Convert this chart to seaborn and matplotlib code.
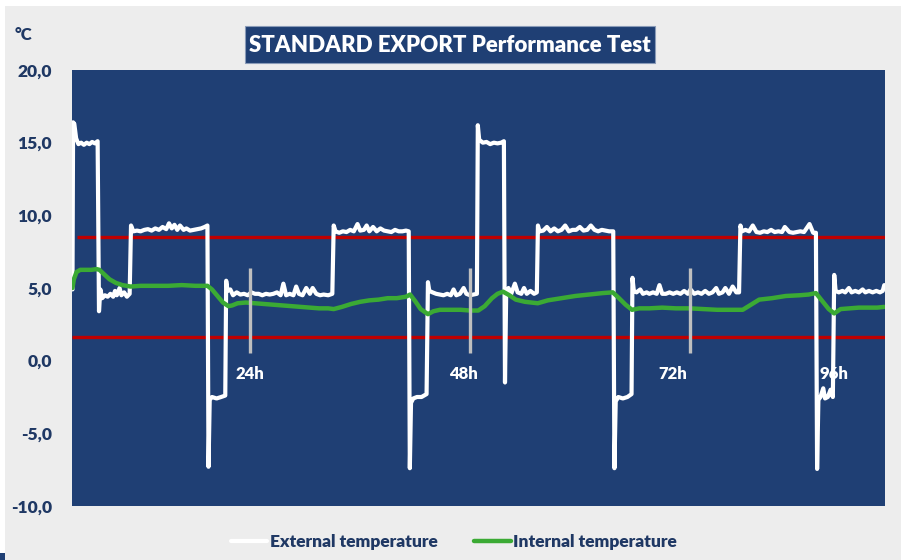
import matplotlib
matplotlib.use("Agg")
import matplotlib.pyplot as plt
from matplotlib.patches import Rectangle
import seaborn as sns
import pandas as pd

# ---------------- data ----------------
ext_hours = [4.55, 4.62, 4.75, 4.95, 5.2, 5.5, 5.8, 6.1, 6.4, 6.7, 7.0, 7.3,
             7.45, 7.6, 7.8, 8.1, 8.4, 8.7, 9.0, 9.2, 9.4, 9.7, 9.9, 10.2, 10.5, 10.8,
             10.95, 11.2, 11.6, 12.0, 12.4, 12.8, 13.2, 13.6, 14.0, 14.4, 14.8, 15.1, 15.4,
             15.7, 16.0, 16.3, 16.7, 17.0, 17.4, 17.8, 18.2, 18.6, 19.0, 19.3,
             19.42, 19.55, 19.8, 20.3, 20.8, 21.25,
             21.35, 21.5, 21.8, 22.1, 22.5, 22.9, 23.3, 23.7, 24.1, 24.5, 24.9, 25.3, 25.7,
             26.1, 26.5, 26.9, 27.3, 27.6, 27.9, 28.3, 28.7, 29.0, 29.3, 29.7, 30.1, 30.5,
             30.8, 31.2, 31.6, 32.0, 32.5, 32.95,
             33.1, 33.3, 33.7, 34.1, 34.5, 34.9, 35.3, 35.7, 36.0, 36.4, 36.7, 37.0, 37.4,
             37.8, 38.2, 38.6, 39.0, 39.4, 39.8, 40.2, 40.6, 41.0, 41.3,
             41.42, 41.55, 41.8, 42.2, 42.7, 43.25,
             43.4, 43.55, 43.9, 44.3, 44.7, 45.1, 45.5, 45.9, 46.2, 46.5, 46.9, 47.3, 47.6,
             48.0, 48.4, 48.75,
             48.85, 49.0, 49.4, 49.8, 50.2, 50.6, 51.0, 51.4, 51.7,
             51.82, 51.95, 52.2, 52.5, 52.9, 53.2, 53.6, 53.9, 54.2, 54.6, 55.0, 55.3,
             55.42, 55.6, 56.0, 56.4, 56.8, 57.2, 57.6, 58.0, 58.4, 58.8, 59.2, 59.6, 60.0,
             60.4, 60.8, 61.2, 61.6, 62.0, 62.4, 62.8, 63.2, 63.65,
             63.78, 63.92, 64.2, 64.7, 65.2, 65.65,
             65.75, 65.9, 66.2, 66.6, 66.9, 67.3, 67.6, 68.0, 68.4, 68.7, 69.0, 69.4, 69.8,
             70.2, 70.6, 71.0, 71.4, 71.8, 72.1, 72.5, 72.9, 73.3, 73.7, 74.1, 74.5, 74.9,
             75.2, 75.6, 75.9, 76.3, 76.7, 77.1, 77.4,
             77.55, 77.7, 78.1, 78.5, 78.9, 79.3, 79.7, 80.1, 80.5, 80.9, 81.3, 81.7, 82.1,
             82.4, 82.9, 83.3, 83.7, 84.1, 84.5, 85.1, 85.5, 85.8,
             85.93, 86.07, 86.3, 86.6, 86.8, 87.1, 87.4, 87.65,
             87.8, 87.95, 88.3, 88.7, 89.0, 89.4, 89.7, 90.1, 90.5, 90.9, 91.2, 91.6, 92.0,
             92.4, 92.8, 93.1, 93.27]
ext_temp = [4.9, 16.4, 16.3, 15.3, 14.9, 15.0, 14.85, 15.0, 14.9, 15.05, 14.95, 15.1,
            3.4, 4.9, 4.3, 4.5, 4.4, 4.6, 4.4, 4.8, 4.5, 5.0, 4.5, 4.7, 4.4, 4.6,
            9.3, 8.9, 8.95, 8.9, 9.0, 9.05, 8.95, 9.1, 9.0, 9.2, 9.05, 9.45, 9.1,
            9.35, 9.0, 9.3, 9.0, 9.1, 8.95, 9.0, 9.05, 9.1, 9.2, 9.3,
            -7.3, -2.7, -2.5, -2.6, -2.5, -2.4,
            5.5, 4.8, 4.9, 4.5, 4.7, 4.55, 4.6, 4.5, 4.7, 4.6, 4.6, 4.5, 4.6,
            4.55, 4.6, 4.7, 4.5, 5.3, 4.5, 4.6, 4.5, 5.1, 4.6, 4.5, 5.0, 4.6,
            5.0, 4.6, 4.5, 4.55, 4.5, 4.6,
            9.3, 8.9, 8.8, 8.9, 8.85, 9.0, 8.9, 9.4, 8.95, 9.0, 9.3, 8.9, 9.2,
            8.9, 9.1, 8.95, 8.9, 8.85, 9.0, 8.9, 8.9, 8.95, 8.9,
            -7.4, -2.9, -2.6, -2.5, -2.5, -2.3,
            5.4, 4.8, 4.7, 4.6, 4.55, 4.5, 4.6, 4.5, 4.9, 4.5, 4.6, 5.0, 4.6,
            4.5, 4.55, 4.6,
            16.2, 15.2, 15.0, 15.05, 14.9, 15.0, 14.95, 15.0, 15.1,
            -1.5, 4.6, 5.0, 4.6, 5.3, 4.7, 4.6, 5.0, 4.6, 4.8, 4.6, 4.7,
            9.3, 8.9, 8.95, 9.2, 8.9, 9.1, 8.9, 9.0, 9.3, 8.9, 9.0, 9.0, 9.2,
            8.95, 9.0, 9.3, 9.0, 8.9, 9.0, 8.95, 8.9, 8.9,
            -7.4, -2.8, -2.5, -2.6, -2.5, -2.3,
            5.7, 4.8, 4.7, 4.9, 4.6, 4.7, 4.6, 4.7, 4.6, 5.2, 4.6, 4.6, 4.7,
            4.6, 4.7, 4.6, 4.8, 4.6, 4.9, 4.6, 4.7, 4.6, 4.8, 4.6, 4.7, 5.0,
            4.6, 4.7, 5.0, 4.6, 5.1, 4.7, 4.7,
            9.3, 8.9, 9.0, 8.9, 9.3, 8.85, 8.8, 8.9, 8.85, 9.0, 8.85, 8.9, 8.85,
            9.2, 8.85, 8.8, 8.85, 8.9, 8.85, 9.4, 8.8, 8.8,
            -7.45, -2.7, -2.5, -1.9, -2.6, -2.5, -2.0, -2.5,
            5.9, 4.8, 4.7, 4.8, 4.7, 5.0, 4.7, 4.8, 4.7, 4.9, 4.7, 4.8, 4.7,
            4.8, 4.7, 4.8, 5.2]

int_hours = [4.55, 4.7, 5.0, 5.4, 6.0, 6.6, 7.2, 7.5, 8.0, 8.6, 9.3, 10.0, 10.9,
             12.0, 13.5, 15.0, 16.5, 18.0, 19.3, 19.8, 20.4, 21.0, 21.6, 22.0, 22.6,
             23.5, 24.5, 25.5, 26.5, 27.5, 28.5, 29.5, 30.5, 31.5, 32.5, 33.1, 34.0,
             35.0, 36.0, 37.0, 38.0, 39.0, 40.0, 41.0, 41.45, 42.0, 42.6, 43.4, 44.0,
             44.7, 45.8, 47.0, 48.0, 48.9, 49.6, 50.4, 51.0, 51.6, 52.3, 53.0, 54.0,
             55.4, 56.5, 58.0, 59.5, 61.0, 62.5, 63.6, 64.2, 65.0, 65.7, 66.5, 67.6,
             69.0, 70.5, 72.0, 73.5, 75.0, 76.5, 77.8, 78.7, 79.6, 81.0, 82.5, 84.0,
             85.0, 85.8, 86.5, 87.2, 87.8, 88.5, 89.5, 90.5, 91.5, 92.5, 93.27]
int_temp = [5.0, 5.6, 6.1, 6.25, 6.25, 6.25, 6.3, 6.25, 5.95, 5.6, 5.35, 5.2, 5.1,
            5.15, 5.15, 5.15, 5.2, 5.15, 5.15, 4.9, 4.45, 4.0, 3.75, 3.8, 3.95,
            4.0, 3.95, 3.9, 3.85, 3.8, 3.75, 3.7, 3.65, 3.6, 3.6, 3.55, 3.7,
            3.9, 4.05, 4.15, 4.2, 4.3, 4.3, 4.4, 4.55, 4.1, 3.55, 3.2, 3.4,
            3.5, 3.5, 3.5, 3.45, 3.45, 3.75, 4.3, 4.6, 4.75, 4.5, 4.2, 4.05,
            3.95, 4.15, 4.3, 4.45, 4.55, 4.65, 4.7, 4.35, 3.85, 3.5, 3.6, 3.6,
            3.65, 3.6, 3.6, 3.55, 3.5, 3.5, 3.5, 3.85, 4.2, 4.3, 4.45, 4.5,
            4.55, 4.65, 4.1, 3.55, 3.25, 3.55, 3.6, 3.65, 3.65, 3.65, 3.7]

limit_upper = 8.5
limit_lower = 1.6
marker_hours = [24, 48, 72]
marker_span = [0.5, 6.4]
marker_labels = ["24h", "48h", "72h", "96h"]
marker_label_x = [23.9, 47.3, 70.1, 87.8]
marker_label_y = -0.92
yticks = [20, 15, 10, 5, 0, -5, -10]
ytick_labels = ["20,0", "15,0", "10,0", "5,0", "0,0", "-5,0", "-10,0"]
title = "STANDARD EXPORT Performance Test"
series_names = ["External temperature", "Internal temperature"]

# ---------------- style ----------------
NAVY = "#1F3F74"
TXT = "#1F3864"
GREEN = "#3BAA34"
RED = "#C00000"
GREYBG = "#EDEDED"
W = "heavy"

sns.set_style("white")
plt.rcParams['font.family'] = ['Lato', 'DejaVu Sans']

fig = plt.figure(figsize=(9.01, 5.6), dpi=100, facecolor="white")
fig.patches.append(Rectangle((5/901, 0), 1, 1 - 6/560, transform=fig.transFigure,
                             facecolor=GREYBG, edgecolor="none", zorder=-10))
fig.patches.append(Rectangle((0, 0), 5/901, 7/560, transform=fig.transFigure,
                             facecolor=NAVY, edgecolor="none", zorder=-9))

ax = fig.add_axes([72/901, 1 - 506/560, (885 - 72)/901, (506 - 70)/560])
ax.set_facecolor(NAVY)

df_ext = pd.DataFrame({"hour": ext_hours, "temp": ext_temp})
df_int = pd.DataFrame({"hour": int_hours, "temp": int_temp})

ax.hlines(limit_upper, 5.1, 93.4, color=RED, linewidth=2.4, zorder=2)
ax.hlines(limit_lower, 4.5, 93.4, color=RED, linewidth=2.4, zorder=2)

sns.lineplot(data=df_ext, x="hour", y="temp", ax=ax, color="white", linewidth=3.0,
             estimator=None, sort=False, label=series_names[0], zorder=3)
sns.lineplot(data=df_int, x="hour", y="temp", ax=ax, color=GREEN, linewidth=3.2,
             estimator=None, sort=False, label=series_names[1], zorder=4)

ax.vlines(marker_hours, marker_span[0], marker_span[1], color="#BFBFBF", linewidth=2.4, zorder=5)
for lab, lx in zip(marker_labels, marker_label_x):
    ax.text(lx, marker_label_y, lab, color="white", fontsize=12, fontweight=W,
            ha="center", va="center", zorder=6)

ax.set_xlim(4.5, 93.35)
ax.set_ylim(-10, 20)
ax.set_xticks([])
ax.set_yticks(yticks)
ax.set_yticklabels(ytick_labels)
ax.tick_params(axis="y", length=0, pad=14.5, labelsize=12.5, labelcolor=TXT)
for t in ax.get_yticklabels():
    t.set_fontweight(W)
ax.set_xlabel("")
ax.set_ylabel("")
for s in ax.spines.values():
    s.set_visible(False)

ax.get_legend().remove()
h, l = ax.get_legend_handles_labels()
leg = fig.legend(h, l, loc="center", bbox_to_anchor=(454/901, 1 - 542/560), ncol=2,
                 frameon=False, handlelength=2.1, handletextpad=0.15, columnspacing=2.1,
                 prop={"weight": W, "size": 12.5})
for t in leg.get_texts():
    t.set_color(TXT)

# °C label
fig.text(15/901, 1 - 35/560, "°C", color=TXT, fontsize=12, fontweight=W,
         ha="left", va="center")

# Title box
fig.patches.append(Rectangle((245/901, 1 - 63/560), 410/901, 37/560, transform=fig.transFigure,
                             facecolor=NAVY, edgecolor="#8A9BB8", linewidth=0.8, zorder=1))
fig.text(450/901, 1 - 45/560, title, color="white", fontsize=16, fontweight=W,
         ha="center", va="center", zorder=2)

fig.savefig("out.png", dpi=100, facecolor=fig.get_facecolor())
